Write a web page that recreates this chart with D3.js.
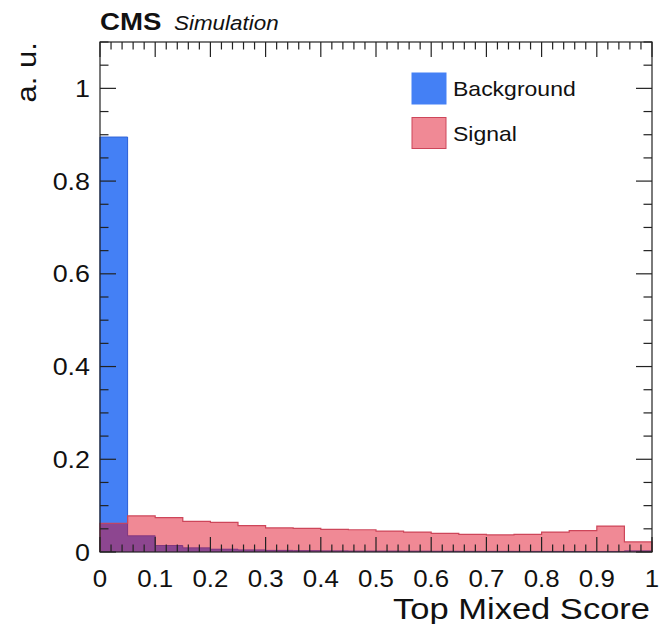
<!DOCTYPE html>
<html>
<head>
<meta charset="utf-8">
<script src="https://cdn.jsdelivr.net/npm/d3@7"></script>
<style>
  html, body { margin: 0; padding: 0; background: #fff; }
  svg text { font-family: "Liberation Sans", Arial, Helvetica, sans-serif; fill: #111; }
</style>
</head>
<body>
<svg id="chart" width="661" height="624"></svg>
<script>
// Bin edges of the score histogram (20 bins of width 0.05)
const binEdges = [0, 0.05, 0.1, 0.15, 0.2, 0.25, 0.3, 0.35, 0.4, 0.45, 0.5,
                  0.55, 0.6, 0.65, 0.7, 0.75, 0.8, 0.85, 0.9, 0.95, 1];

// Normalised bin contents (a. u.)
const backgroundValues = [0.895, 0.035, 0.014, 0.009, 0.006, 0.0045, 0.0035, 0.003, 0.0025, 0.002,
                          0.002, 0.0018, 0.0016, 0.0015, 0.0014, 0.0013, 0.0013, 0.0012, 0.0012, 0.0025];
const signalValues = [0.062, 0.078, 0.074, 0.066, 0.064, 0.057, 0.052, 0.051, 0.049, 0.048,
                      0.045, 0.043, 0.040, 0.038, 0.037, 0.038, 0.043, 0.046, 0.056, 0.022];

const xTickLabels = ["0", "0.1", "0.2", "0.3", "0.4", "0.5", "0.6", "0.7", "0.8", "0.9", "1"];
const yTickLabels = ["0", "0.2", "0.4", "0.6", "0.8", "1"];

const seriesNames = ["Background", "Signal"];

// Layout
const frame = { left: 100, right: 652, top: 42, bottom: 552 };
const stretch = 1.15;   // horizontal stretch used for titles and legend text
const colBg = "rgb(68,128,245)";
const colBgLine = "rgb(50,100,215)";
const colSig = "rgba(223,5,30,0.47)";
const colSigLine = "rgb(205,70,90)";

const svg = d3.select("#chart");

const x = d3.scaleLinear().domain([0, 1]).range([frame.left, frame.right]);
const y = d3.scaleLinear().domain([0, 1.1]).range([frame.bottom, frame.top]);

// Histogram bars
function bins(values) {
  return values.map((v, i) => ({ x0: binEdges[i], x1: binEdges[i + 1], v }));
}
function stepPath(values) {
  const pts = [[binEdges[0], 0]];
  values.forEach((v, i) => { pts.push([binEdges[i], v]); pts.push([binEdges[i + 1], v]); });
  pts.push([binEdges[binEdges.length - 1], 0]);
  return d3.line().x(d => x(d[0])).y(d => y(d[1]))(pts);
}

const plot = svg.append("g");

plot.selectAll("rect.bg").data(bins(backgroundValues)).join("rect")
  .attr("class", "bg")
  .attr("x", d => x(d.x0))
  .attr("width", d => x(d.x1) - x(d.x0))
  .attr("y", d => y(d.v))
  .attr("height", d => y(0) - y(d.v))
  .attr("fill", colBg)
  .attr("shape-rendering", "crispEdges");
plot.append("path").attr("d", stepPath(backgroundValues))
  .attr("fill", "none").attr("stroke", colBgLine).attr("stroke-width", 1);

plot.selectAll("rect.sig").data(bins(signalValues)).join("rect")
  .attr("class", "sig")
  .attr("x", d => x(d.x0))
  .attr("width", d => x(d.x1) - x(d.x0))
  .attr("y", d => y(d.v))
  .attr("height", d => y(0) - y(d.v))
  .attr("fill", colSig)
  .attr("shape-rendering", "crispEdges");
plot.append("path").attr("d", stepPath(signalValues))
  .attr("fill", "none").attr("stroke", colSigLine).attr("stroke-width", 1.2);

// Frame with ticks on all four sides
const axes = svg.append("g").attr("stroke", "#222").attr("stroke-width", 1.2);
axes.append("rect")
  .attr("x", frame.left).attr("y", frame.top)
  .attr("width", frame.right - frame.left).attr("height", frame.bottom - frame.top)
  .attr("fill", "none");

const xMinor = d3.range(0, 51).map(i => i / 50);
xMinor.forEach((v, i) => {
  const len = i % 5 === 0 ? 15 : 7.5;
  axes.append("line").attr("x1", x(v)).attr("x2", x(v))
    .attr("y1", frame.bottom).attr("y2", frame.bottom - len);
  axes.append("line").attr("x1", x(v)).attr("x2", x(v))
    .attr("y1", frame.top).attr("y2", frame.top + len);
});
const yMinor = d3.range(0, 23).map(i => i * 0.05);
yMinor.forEach((v, i) => {
  const len = i % 4 === 0 ? 16 : 8.5;
  axes.append("line").attr("y1", y(v)).attr("y2", y(v))
    .attr("x1", frame.left).attr("x2", frame.left + len);
  axes.append("line").attr("y1", y(v)).attr("y2", y(v))
    .attr("x1", frame.right).attr("x2", frame.right - len);
});

// Stretched text helper
function label(px, py, text, opts) {
  const s = opts.stretch || stretch;
  const g = svg.append("g")
    .attr("transform", `translate(${px},${py})${opts.rotate ? " rotate(-90)" : ""} scale(${s},1)`);
  g.append("text")
    .attr("text-anchor", opts.anchor || "start")
    .attr("font-size", opts.size)
    .attr("font-weight", opts.weight || "normal")
    .attr("font-style", opts.style || "normal")
    .text(text);
  return g;
}

// Tick labels
xTickLabels.forEach(t => label(x(+t), 586.5, t, { anchor: "middle", size: 23.5, stretch: 1.1 }));
yTickLabels.forEach(t => label(90, y(+t) + 8.5, t, { anchor: "end", size: 24, stretch: 1.12 }));

// Axis titles
label(650, 619, "Top Mixed Score", { anchor: "end", size: 29.5, stretch: 1.17 });
label(36, 42, "a. u.", { anchor: "end", size: 27, rotate: true });

// CMS header
label(100, 30, "CMS", { size: 24, weight: "bold" });
label(174, 30, "Simulation", { size: 19.5, style: "italic" });

// Legend
const legendColors = [colBg, colSig];
const legendLines = [colBg, colSigLine];
seriesNames.forEach((name, i) => {
  const top = 73 + i * 44.5;
  svg.append("rect")
    .attr("x", 412).attr("y", top).attr("width", 34).attr("height", 31)
    .attr("fill", legendColors[i]).attr("stroke", legendLines[i]).attr("stroke-width", 1);
  label(453, top + 23, name, { size: 20 });
});
</script>
</body>
</html>
